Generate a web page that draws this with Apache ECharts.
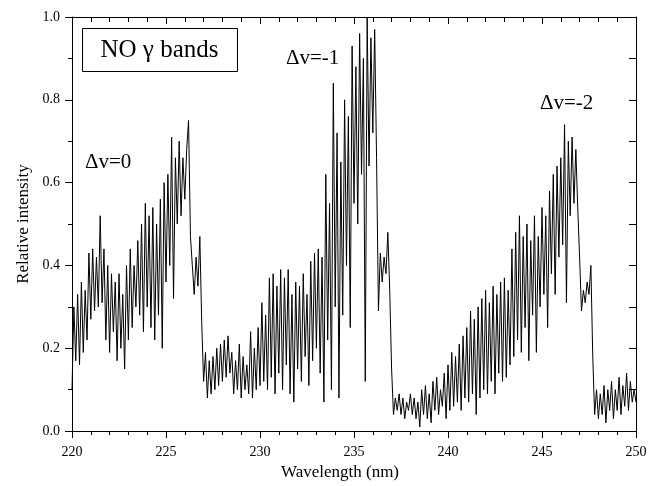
<!DOCTYPE html>
<html>
<head>
<meta charset="utf-8">
<script src="https://cdn.jsdelivr.net/npm/echarts@6/dist/echarts.min.js"></script>
<style>
html,body{margin:0;padding:0;background:#fff;}
#c{width:655px;height:486px;}
</style>
</head>
<body>
<div id="c"></div>
<script>
// Wavelength samples (nm)
var wavelengths = [
220.0,220.1,220.2,220.3,220.4,220.5,220.6,220.7,220.8,220.9,
221.0,221.1,221.2,221.3,221.4,221.5,221.6,221.7,221.8,221.9,
222.0,222.1,222.2,222.3,222.4,222.5,222.6,222.7,222.8,222.9,
223.0,223.1,223.2,223.3,223.4,223.5,223.6,223.7,223.8,223.9,
224.0,224.1,224.2,224.3,224.4,224.5,224.6,224.7,224.8,224.9,
225.0,225.1,225.2,225.3,225.4,225.5,225.6,225.7,225.8,225.9,
226.0,226.1,226.2,226.3,226.4,226.5,226.6,226.7,226.8,226.9,
227.0,227.1,227.2,227.3,227.4,227.5,227.6,227.7,227.8,227.9,
228.0,228.1,228.2,228.3,228.4,228.5,228.6,228.7,228.8,228.9,
229.0,229.1,229.2,229.3,229.4,229.5,229.6,229.7,229.8,229.9,
230.0,230.1,230.2,230.3,230.4,230.5,230.6,230.7,230.8,230.9,
231.0,231.1,231.2,231.3,231.4,231.5,231.6,231.7,231.8,231.9,
232.0,232.1,232.2,232.3,232.4,232.5,232.6,232.7,232.8,232.9,
233.0,233.1,233.2,233.3,233.4,233.5,233.6,233.7,233.8,233.9,
234.0,234.1,234.2,234.3,234.4,234.5,234.6,234.7,234.8,234.9,
235.0,235.1,235.2,235.3,235.4,235.5,235.6,235.7,235.8,235.9,
236.0,236.1,236.2,236.3,236.4,236.5,236.6,236.7,236.8,236.9,
237.0,237.1,237.2,237.3,237.4,237.5,237.6,237.7,237.8,237.9,
238.0,238.1,238.2,238.3,238.4,238.5,238.6,238.7,238.8,238.9,
239.0,239.1,239.2,239.3,239.4,239.5,239.6,239.7,239.8,239.9,
240.0,240.1,240.2,240.3,240.4,240.5,240.6,240.7,240.8,240.9,
241.0,241.1,241.2,241.3,241.4,241.5,241.6,241.7,241.8,241.9,
242.0,242.1,242.2,242.3,242.4,242.5,242.6,242.7,242.8,242.9,
243.0,243.1,243.2,243.3,243.4,243.5,243.6,243.7,243.8,243.9,
244.0,244.1,244.2,244.3,244.4,244.5,244.6,244.7,244.8,244.9,
245.0,245.1,245.2,245.3,245.4,245.5,245.6,245.7,245.8,245.9,
246.0,246.1,246.2,246.3,246.4,246.5,246.6,246.7,246.8,246.9,
247.0,247.1,247.2,247.3,247.4,247.5,247.6,247.7,247.8,247.9,
248.0,248.1,248.2,248.3,248.4,248.5,248.6,248.7,248.8,248.9,
249.0,249.1,249.2,249.3,249.4,249.5,249.6,249.7,249.8,249.9,
250.0
];
// Relative intensity
var intensity = [
0.10,0.30,0.17,0.33,0.16,0.36,0.19,0.34,0.22,0.43,
0.27,0.44,0.29,0.42,0.30,0.52,0.31,0.44,0.22,0.40,
0.19,0.38,0.24,0.36,0.17,0.38,0.20,0.33,0.15,0.40,
0.22,0.44,0.25,0.40,0.30,0.46,0.28,0.50,0.24,0.55,
0.30,0.52,0.25,0.54,0.22,0.50,0.28,0.56,0.20,0.60,
0.36,0.62,0.40,0.71,0.32,0.66,0.50,0.70,0.52,0.66,
0.56,0.68,0.75,0.47,0.40,0.33,0.42,0.35,0.47,0.26,
0.12,0.19,0.08,0.17,0.09,0.18,0.10,0.20,0.11,0.21,
0.12,0.22,0.13,0.23,0.14,0.19,0.09,0.17,0.10,0.21,
0.08,0.18,0.10,0.16,0.09,0.24,0.08,0.20,0.10,0.25,
0.11,0.31,0.12,0.28,0.10,0.37,0.13,0.38,0.09,0.35,
0.14,0.39,0.10,0.37,0.16,0.39,0.09,0.33,0.07,0.36,
0.15,0.35,0.12,0.38,0.18,0.33,0.11,0.41,0.17,0.43,
0.20,0.44,0.14,0.42,0.07,0.62,0.22,0.55,0.10,0.84,
0.30,0.72,0.08,0.65,0.28,0.80,0.40,0.76,0.25,0.93,
0.55,0.88,0.50,0.96,0.62,0.90,0.12,1.00,0.64,0.95,
0.72,0.97,0.66,0.29,0.43,0.36,0.42,0.38,0.48,0.34,
0.15,0.04,0.08,0.05,0.09,0.04,0.08,0.03,0.07,0.05,
0.09,0.04,0.08,0.03,0.07,0.01,0.10,0.04,0.11,0.03,
0.09,0.02,0.12,0.05,0.13,0.04,0.10,0.06,0.14,0.03,
0.16,0.05,0.19,0.06,0.18,0.07,0.21,0.05,0.23,0.08,
0.25,0.07,0.29,0.09,0.27,0.04,0.30,0.08,0.32,0.10,
0.34,0.09,0.31,0.12,0.35,0.09,0.33,0.14,0.36,0.12,
0.37,0.13,0.34,0.16,0.44,0.18,0.48,0.22,0.52,0.19,
0.47,0.25,0.50,0.17,0.46,0.28,0.52,0.19,0.47,0.30,
0.54,0.33,0.52,0.25,0.58,0.38,0.62,0.33,0.64,0.42,
0.66,0.45,0.74,0.31,0.70,0.52,0.71,0.55,0.68,0.54,
0.42,0.29,0.34,0.31,0.36,0.33,0.40,0.18,0.04,0.10,
0.03,0.09,0.04,0.11,0.02,0.10,0.05,0.12,0.03,0.10,
0.05,0.13,0.04,0.11,0.06,0.14,0.05,0.12,0.07,0.10,
0.07
];
var xTicks = [220, 225, 230, 235, 240, 245, 250];
var yTicks = [0.0, 0.2, 0.4, 0.6, 0.8, 1.0];

var FONT = '"Liberation Serif", "Times New Roman", serif';
var points = wavelengths.map(function (w, i) { return [w, intensity[i]]; });

var chart = echarts.init(document.getElementById('c'), null, {renderer: 'canvas'});
var axisCommon = {
  type: 'value',
  axisLine: {show: true, onZero: false, lineStyle: {color: '#000', width: 1}},
  splitLine: {show: false}
};
chart.setOption({
  animation: false,
  backgroundColor: '#fff',
  grid: {left: 72, right: 19, top: 17, bottom: 51, containLabel: false},
  xAxis: [
    Object.assign({}, axisCommon, {
      min: xTicks[0], max: xTicks[xTicks.length - 1], interval: 5,
      position: 'bottom',
      name: 'Wavelength (nm)', nameLocation: 'middle', nameGap: 32,
      nameTextStyle: {fontFamily: FONT, fontSize: 17, color: '#000', padding: [0, 28, 0, 0]},
      axisTick: {show: true, inside: false, length: 7, lineStyle: {color: '#000'}},
      minorTick: {show: true, splitNumber: 5, length: 4, lineStyle: {color: '#000'}},
      axisLabel: {fontFamily: FONT, fontSize: 14, color: '#000', margin: 14,
        formatter: function (v) { return String(v); }}
    }),
    Object.assign({}, axisCommon, {
      min: xTicks[0], max: xTicks[xTicks.length - 1], interval: 5,
      position: 'top',
      axisTick: {show: true, inside: true, length: 7, lineStyle: {color: '#000'}},
      minorTick: {show: true, splitNumber: 5, length: 5, lineStyle: {color: '#000'}},
      axisLabel: {show: false}
    })
  ],
  yAxis: [
    Object.assign({}, axisCommon, {
      min: yTicks[0], max: yTicks[yTicks.length - 1], interval: 0.2,
      position: 'left',
      name: 'Relative intensity', nameLocation: 'middle', nameGap: 38,
      nameTextStyle: {fontFamily: FONT, fontSize: 17, color: '#000'},
      axisTick: {show: true, inside: false, length: 7, lineStyle: {color: '#000'}},
      minorTick: {show: true, splitNumber: 2, length: 4, lineStyle: {color: '#000'}},
      axisLabel: {fontFamily: FONT, fontSize: 14, color: '#000', margin: 12,
        formatter: function (v) { return v.toFixed(1); }}
    }),
    Object.assign({}, axisCommon, {
      min: yTicks[0], max: yTicks[yTicks.length - 1], interval: 0.2,
      position: 'right',
      axisTick: {show: true, inside: true, length: 7, lineStyle: {color: '#000'}},
      minorTick: {show: true, splitNumber: 2, length: 7, lineStyle: {color: '#000'}},
      axisLabel: {show: false}
    })
  ],
  series: [{
    type: 'line',
    xAxisIndex: 0, yAxisIndex: 0,
    data: points,
    showSymbol: false,
    symbol: 'none',
    sampling: null,
    lineStyle: {color: '#000', width: 1},
    z: 1
  }],
  graphic: [
    {type: 'rect', left: 82, top: 28, z: 10,
      shape: {width: 155, height: 43},
      style: {fill: '#fff', stroke: '#000', lineWidth: 1}},
    {type: 'text', x: 159.5, y: 50, z: 11,
      style: {text: 'NO γ bands', font: '25px ' + FONT, fill: '#000', align: 'center', verticalAlign: 'middle'}},
    {type: 'text', x: 85, y: 162, z: 11,
      style: {text: 'Δv=0', font: '21px ' + FONT, fill: '#000', align: 'left', verticalAlign: 'middle'}},
    {type: 'text', x: 286, y: 58, z: 11,
      style: {text: 'Δv=-1', font: '21px ' + FONT, fill: '#000', align: 'left', verticalAlign: 'middle'}},
    {type: 'text', x: 540, y: 103, z: 11,
      style: {text: 'Δv=-2', font: '21px ' + FONT, fill: '#000', align: 'left', verticalAlign: 'middle'}}
  ]
});
</script>
</body>
</html>
